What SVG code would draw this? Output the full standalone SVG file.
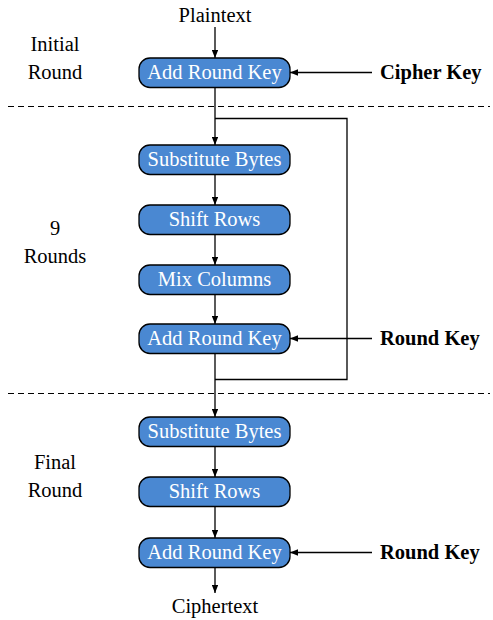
<svg xmlns="http://www.w3.org/2000/svg" width="493" height="620" viewBox="0 0 493 620">
  <style>
    .box { fill: #4a88d2; stroke: #000; stroke-width: 1.3; }
    .btxt { font-family: "Liberation Serif", "DejaVu Serif", serif; font-size: 20.5px; fill: #fff; text-anchor: middle; }
    .lbl { font-family: "Liberation Serif", "DejaVu Serif", serif; font-size: 20.5px; fill: #000; text-anchor: middle; }
    .key { font-family: "Liberation Serif", "DejaVu Serif", serif; font-size: 20.5px; font-weight: bold; fill: #000; }
    .ln { fill: none; stroke: #000; stroke-width: 1.3; }
    .arr { fill: none; stroke: #000; stroke-width: 1.3; marker-end: url(#ah); }
    .dash { fill: none; stroke: #000; stroke-width: 1.2; stroke-dasharray: 6 4; }
  </style>
  <defs>
    <marker id="ah" viewBox="0 0 10 8" refX="10" refY="4" markerWidth="8" markerHeight="6.4" markerUnits="userSpaceOnUse" orient="auto">
      <path d="M0,0 L10,4 L0,8 Z" fill="#000"/>
    </marker>
  </defs>

  <!-- round separators -->
  <line class="dash" x1="8" y1="106.5" x2="490" y2="106.5"/>
  <line class="dash" x1="8" y1="393.5" x2="490" y2="393.5"/>

  <!-- round labels -->
  <g id="labels">
    <text class="lbl" x="55" y="51">Initial</text>
    <text class="lbl" x="55" y="79">Round</text>
    <text class="lbl" x="55" y="235">9</text>
    <text class="lbl" x="55" y="263">Rounds</text>
    <text class="lbl" x="55" y="469">Final</text>
    <text class="lbl" x="55" y="497">Round</text>
  </g>

  <g id="connectors">
    <line class="arr" x1="215" y1="27" x2="215" y2="58"/>
    <line class="arr" x1="215" y1="88" x2="215" y2="145"/>
    <polyline class="ln" points="215,118.5 347,118.5 347,379.5 215,379.5"/>
    <line class="arr" x1="215" y1="175" x2="215" y2="205"/>
    <line class="arr" x1="215" y1="234" x2="215" y2="265"/>
    <line class="arr" x1="215" y1="294" x2="215" y2="324"/>
    <line class="arr" x1="215" y1="353" x2="215" y2="417"/>
    <line class="arr" x1="215" y1="446" x2="215" y2="477"/>
    <line class="arr" x1="215" y1="506" x2="215" y2="538"/>
    <line class="arr" x1="215" y1="567" x2="215" y2="593"/>
    <line class="arr" x1="372" y1="72.5" x2="290" y2="72.5"/>
    <line class="arr" x1="372" y1="338.5" x2="290" y2="338.5"/>
    <line class="arr" x1="372" y1="552.5" x2="290" y2="552.5"/>
  </g>

  <!-- input / output -->
  <g id="plaintext"><text class="lbl" x="215" y="22">Plaintext</text></g>
  <g id="ciphertext"><text class="lbl" x="215" y="613">Ciphertext</text></g>

  <!-- key inputs -->
  <g id="cipher-key"><text class="key" x="380" y="79">Cipher Key</text></g>
  <g id="round-key-1"><text class="key" x="380" y="345">Round Key</text></g>
  <g id="round-key-2"><text class="key" x="380" y="559">Round Key</text></g>

  <!-- initial round -->
  <g id="ark0">
    <rect class="box" x="139" y="58" width="151" height="29.5" rx="11"/>
    <text class="btxt" x="214.5" y="79">Add Round Key</text>
  </g>

  <!-- main rounds -->
  <g id="sb1">
    <rect class="box" x="139" y="145" width="151" height="29.5" rx="11"/>
    <text class="btxt" x="214.5" y="166">Substitute Bytes</text>
  </g>
  <g id="sr1">
    <rect class="box" x="139" y="205" width="151" height="29.5" rx="11"/>
    <text class="btxt" x="214.5" y="226">Shift Rows</text>
  </g>
  <g id="mc1">
    <rect class="box" x="139" y="265" width="151" height="29.5" rx="11"/>
    <text class="btxt" x="214.5" y="286">Mix Columns</text>
  </g>
  <g id="ark1">
    <rect class="box" x="139" y="324" width="151" height="29.5" rx="11"/>
    <text class="btxt" x="214.5" y="345">Add Round Key</text>
  </g>

  <!-- final round -->
  <g id="sb2">
    <rect class="box" x="139" y="417" width="151" height="29.5" rx="11"/>
    <text class="btxt" x="214.5" y="438">Substitute Bytes</text>
  </g>
  <g id="sr2">
    <rect class="box" x="139" y="477" width="151" height="29.5" rx="11"/>
    <text class="btxt" x="214.5" y="498">Shift Rows</text>
  </g>
  <g id="ark2">
    <rect class="box" x="139" y="538" width="151" height="29.5" rx="11"/>
    <text class="btxt" x="214.5" y="559">Add Round Key</text>
  </g>
</svg>
